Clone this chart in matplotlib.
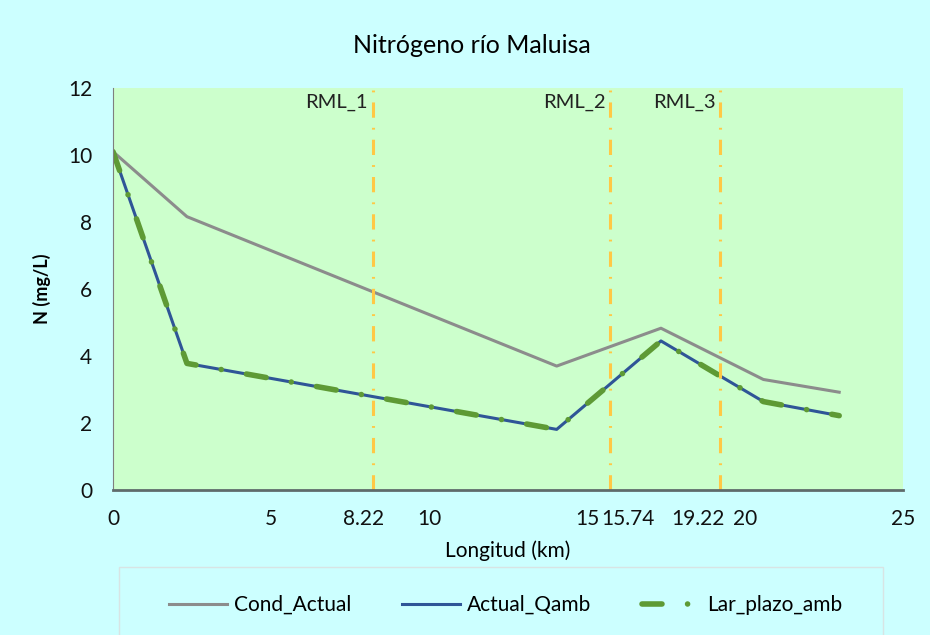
import matplotlib.pyplot as plt
import matplotlib.transforms as mtransforms
from matplotlib.patches import Rectangle

plt.rcParams['font.family'] = ['Lato', 'DejaVu Sans']

# distancia a lo largo del rio (km) y concentraciones de nitrogeno
km = [0, 2.34, 14.04, 17.34, 20.58, 22.98]
cond_actual = [10.1, 8.16, 3.70, 4.83, 3.30, 2.92]
actual_qamb = [10.1, 3.78, 1.81, 4.45, 2.64, 2.22]
lar_plazo_amb = [10.1, 3.78, 1.81, 4.45, 2.64, 2.22]

# estaciones de muestreo
estaciones = ['RML_1', 'RML_2', 'RML_3']
pos_est = [8.22, 15.74, 19.22]

xticks = [0, 5, 8.22, 10, 15, 15.74, 19.22, 20, 25]
xtick_labels = ['0', '5', '8.22', '10', '15', '15.74', '19.22', '20', '25']
# corrimiento horizontal (px) de algunas etiquetas para que no se pisen
desplaz = {'8.22': -9, '15.74': 18, '19.22': -22}

fig = plt.figure(figsize=(9.3, 6.35), dpi=100)
fig.patch.set_facecolor('#CCFFFF')
ax = fig.add_axes([0.1215, 0.2283, 0.8495, 0.6331])
ax.set_facecolor('#CCFFCC')

l1, = ax.plot(km, cond_actual, color='#8C8C8C', lw=2.2, label='Cond_Actual')
l2, = ax.plot(km, actual_qamb, color='#2F5597', lw=2.2, label='Actual_Qamb')
l3, = ax.plot(km, lar_plazo_amb, color='#5E9A35', lw=4,
              linestyle=(0, (3.6, 4.6, 0.01, 4.6)), dash_capstyle='round',
              label='Lar_plazo_amb')

for nombre, x in zip(estaciones, pos_est):
    ax.axvline(x, color='#FFC845', lw=2.2, linestyle=(0, (5, 3.3, 0.6, 3.3)))
    ax.text(x - 0.16, 11.82, nombre, ha='right', va='top', fontsize=14.5, color='#222222')

ax.set_xlim(0, 25)
ax.set_ylim(0, 12)
ax.set_xticks(xticks)
ax.set_xticklabels(xtick_labels)
ax.set_yticks(range(0, 13, 2))
ax.tick_params(axis='both', length=0, labelsize=15, colors='#111111')
ax.tick_params(axis='x', pad=14)
ax.tick_params(axis='y', pad=15)

for lab in ax.get_xticklabels():
    dx = desplaz.get(lab.get_text(), 0)
    if dx:
        lab.set_transform(lab.get_transform() +
                          mtransforms.ScaledTranslation(dx / 100, 0, fig.dpi_scale_trans))

for s in ['top', 'right']:
    ax.spines[s].set_visible(False)
ax.spines['left'].set_color('#7F7F7F')
ax.spines['bottom'].set_color('#5F6B6B')
ax.spines['bottom'].set_linewidth(2)

ax.set_xlabel('Longitud (km)', fontsize=15, labelpad=8)
ax.set_ylabel('N (mg/L)', fontsize=13, fontweight='bold', labelpad=12)
fig.text(0.507, 0.929, 'Nitrógeno río Maluisa', ha='center', va='center', fontsize=18)

# marco de la leyenda
fig.patches.append(Rectangle((119 / 930, -0.01), 764 / 930, 68 / 635 + 0.01,
                             transform=fig.transFigure, fill=False,
                             edgecolor='#D8E4E4', lw=1))
fig.legend(handles=[l1, l2, l3], loc='center', bbox_to_anchor=(0.5435, 0.0472),
           ncol=3, frameon=False, fontsize=15, columnspacing=2.4,
           handlelength=2.8, handletextpad=0.35)

fig.savefig('out.png', facecolor=fig.get_facecolor())
